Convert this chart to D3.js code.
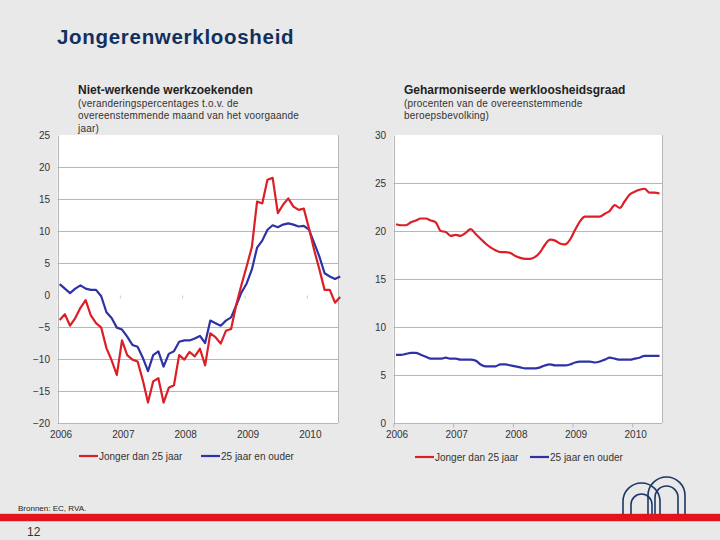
<!DOCTYPE html>
<html>
<head>
<meta charset="utf-8">
<script src="https://cdn.jsdelivr.net/npm/d3@7"></script>
<style>
  html, body { margin: 0; padding: 0; background: #e9e9e9; }
  svg { display: block; font-family: "Liberation Sans", Arial, sans-serif; }
</style>
</head>
<body>
<svg id="chart" width="720" height="540"></svg>
<script>
// ---------- DATA ----------
const yearLabels = ["2006", "2007", "2008", "2009", "2010"];
const yearTickIndex = [0, 12, 24, 36, 48];
const seriesNames = ["Jonger dan 25 jaar", "25 jaar en ouder"];

// Niet-werkende werkzoekenden (% change y/y), monthly Jan 2006 ->
const leftYoung = [-3.9,-3.0,-4.8,-3.6,-2.0,-0.8,-3.2,-4.4,-5.1,-8.3,
  -10.2,-12.5,-7.1,-9.4,-10.1,-10.4,-13.3,-16.8,-13.5,-13.0,
  -16.8,-14.5,-14.1,-9.4,-10.1,-8.9,-9.6,-8.4,-11.0,-6.0,
  -6.6,-7.6,-5.6,-5.3,-1.5,1.6,4.5,7.5,14.6,14.3,
  18.0,18.3,12.8,14.1,15.1,13.8,13.3,13.5,10.4,7.0,
  4.0,0.8,0.8,-1.2,-0.3];
const leftOld = [1.7,1.0,0.3,1.0,1.5,1.0,0.8,0.8,-0.2,-2.7,
  -3.6,-5.1,-5.4,-6.5,-7.8,-8.1,-9.8,-11.9,-9.4,-8.8,
  -11.2,-9.2,-8.8,-7.3,-7.1,-7.1,-6.8,-6.4,-7.5,-4.0,
  -4.4,-4.8,-4.0,-3.5,-1.6,0.4,1.8,4.0,7.4,8.5,
  10.2,10.9,10.6,11.0,11.2,11.0,10.7,10.8,10.2,8.1,
  6.0,3.4,2.9,2.5,2.9];

// Geharmoniseerde werkloosheidsgraad (%), monthly Jan 2006 ->
const rightYoung = [20.7,20.6,20.6,20.9,21.1,21.3,21.3,21.1,20.9,20.0,
  19.9,19.5,19.6,19.5,19.8,20.2,19.7,19.2,18.7,18.3,
  18.0,17.8,17.8,17.7,17.4,17.2,17.1,17.1,17.3,17.8,
  18.6,19.1,19.0,18.7,18.6,19.1,20.1,21.0,21.5,21.5,
  21.5,21.5,21.8,22.1,22.7,22.4,23.1,23.8,24.1,24.3,
  24.4,24.0,24.0,23.9];
const rightOld = [7.1,7.1,7.2,7.3,7.3,7.1,6.9,6.7,6.7,6.7,
  6.8,6.7,6.7,6.6,6.6,6.6,6.5,6.1,5.9,5.9,
  5.9,6.1,6.1,6.0,5.9,5.8,5.7,5.7,5.7,5.8,
  6.0,6.1,6.0,6.0,6.0,6.1,6.3,6.4,6.4,6.4,
  6.3,6.4,6.6,6.8,6.7,6.6,6.6,6.6,6.7,6.8,
  7.0,7.0,7.0,7.0];

const leftTicks = [-20,-15,-10,-5,0,5,10,15,20,25];
const rightTicks = [0,5,10,15,20,25,30];

// ---------- STYLE ----------
const RED = "#dc1e26";
const BLUE = "#2d33a6";
const GRID = "#b7b7b7";
const TXT = "#333333";

const svg = d3.select("#chart");

// Main title
svg.append("text").attr("x", 57).attr("y", 44)
  .attr("font-size", 20.5).attr("font-weight", "bold").attr("fill", "#12305e")
  .attr("letter-spacing", 0.7)
  .text("Jongerenwerkloosheid");

function panel(cfg) {
  const g = svg.append("g");
  const x = d3.scaleLinear().domain([0, 54]).range([cfg.x0, cfg.x1]);
  const y = d3.scaleLinear().domain(cfg.yDomain).range([cfg.y1, cfg.y0]);

  // titles
  g.append("text").attr("x", cfg.tx).attr("y", 94)
    .attr("font-size", 12).attr("font-weight", "bold").attr("fill", "#222")
    .text(cfg.title);
  cfg.sub.forEach((s, i) => {
    g.append("text").attr("x", cfg.tx).attr("y", 107 + i * 12.3)
      .attr("font-size", 10).attr("letter-spacing", 0.2).attr("fill", TXT).text(s);
  });

  // plot background
  g.append("rect").attr("x", cfg.x0).attr("y", cfg.y0)
    .attr("width", cfg.x1 - cfg.x0).attr("height", cfg.y1 - cfg.y0)
    .attr("fill", "#ffffff");

  // gridlines
  g.selectAll(".grid").data(cfg.grid).enter().append("line")
    .attr("x1", cfg.x0).attr("x2", cfg.x1)
    .attr("y1", d => Math.round(y(d)) + 0.5).attr("y2", d => Math.round(y(d)) + 0.5)
    .attr("stroke", GRID).attr("stroke-width", 1);

  // right border
  g.append("line").attr("x1", cfg.x1 + 0.5).attr("x2", cfg.x1 + 0.5)
    .attr("y1", cfg.y0).attr("y2", cfg.y1).attr("stroke", GRID);

  // y axis
  const ya = g.append("g").attr("transform", `translate(${cfg.x0 + 0.5},0)`)
    .call(d3.axisLeft(y).tickValues(cfg.yTicks).tickSize(0).tickPadding(8));
  ya.select(".domain").attr("stroke", GRID);
  ya.selectAll("text").attr("font-size", 10).attr("fill", TXT)
    .attr("font-family", "Liberation Sans, Arial, sans-serif");

  // bottom axis line
  g.append("line").attr("x1", cfg.x0).attr("x2", cfg.x1)
    .attr("y1", Math.round(y(cfg.yDomain[0])) + 0.5).attr("y2", Math.round(y(cfg.yDomain[0])) + 0.5)
    .attr("stroke", GRID);

  // x tick marks (at axis crossing)
  const xa = g.append("g").attr("transform", `translate(0,${Math.round(y(cfg.cross)) + 0.5})`)
    .call(d3.axisBottom(x).tickValues(yearTickIndex).tickSize(cfg.tickLen).tickFormat(""));
  xa.select(".domain").remove();
  xa.selectAll("line").attr("stroke", cfg.tickColor);

  // x labels at bottom
  const xl = g.append("g").attr("transform", `translate(3,${cfg.y1})`)
    .call(d3.axisBottom(x).tickValues(yearTickIndex).tickSize(0).tickPadding(8)
      .tickFormat((d, i) => yearLabels[i]));
  xl.select(".domain").remove();
  xl.selectAll("text").attr("font-size", 10).attr("fill", TXT)
    .attr("font-family", "Liberation Sans, Arial, sans-serif");

  // lines
  const line = d3.line().x((d, i) => x(i + cfg.offset)).y(d => y(d)).curve(cfg.curve);
  [[cfg.young, RED], [cfg.old, BLUE]].reverse().forEach(([data, col]) => {
    g.append("path").datum(data).attr("d", line)
      .attr("fill", "none").attr("stroke", col).attr("stroke-width", 2.2)
      .attr("stroke-linejoin", "round");
  });

  // legend
  const ly = cfg.legendY;
  [[RED, seriesNames[0], cfg.lx[0]], [BLUE, seriesNames[1], cfg.lx[1]]].forEach(([c, t, lx]) => {
    g.append("line").attr("x1", lx).attr("x2", lx + 19).attr("y1", ly).attr("y2", ly)
      .attr("stroke", c).attr("stroke-width", 2.2);
    g.append("text").attr("x", lx + 20).attr("y", ly + 3.5)
      .attr("font-size", 10).attr("fill", TXT).text(t);
  });
}

panel({
  x0: 57.5, x1: 338, y0: 135, y1: 423, yDomain: [-20, 25], yTicks: leftTicks,
  grid: [-15, -10, -5, 5, 10, 15, 20], cross: 0, tickLen: 3, tickColor: "#cccccc",
  tx: 78, title: "Niet-werkende werkzoekenden",
  sub: ["(veranderingspercentages t.o.v. de", "overeenstemmende maand van het voorgaande", "jaar)"],
  young: leftYoung, old: leftOld, offset: 0.42, curve: d3.curveLinear,
  legendY: 456, lx: [79, 201]
});

panel({
  x0: 393.5, x1: 662, y0: 135, y1: 423, yDomain: [0, 30], yTicks: rightTicks,
  grid: [5, 10, 15, 20, 25], cross: 0, tickLen: 4, tickColor: GRID,
  tx: 404, title: "Geharmoniseerde werkloosheidsgraad",
  sub: ["(procenten van de overeenstemmende", "beroepsbevolking)"],
  young: rightYoung, old: rightOld, offset: 0.5, curve: d3.curveMonotoneX,
  legendY: 457, lx: [415, 530]
});

// ---------- FOOTER ----------
svg.append("text").attr("x", 18).attr("y", 511).attr("font-size", 8)
  .attr("fill", "#222").text("Bronnen: EC, RVA.");
svg.append("rect").attr("x", 0).attr("y", 513).attr("width", 720).attr("height", 9).attr("fill", "#f2b8b8");
svg.append("rect").attr("x", 0).attr("y", 514).attr("width", 720).attr("height", 7).attr("fill", "#e3141b");
svg.append("text").attr("x", 27).attr("y", 536).attr("font-size", 12).attr("fill", TXT).text("12");

// logo (arches)
const logo = svg.append("g").attr("fill", "none").attr("stroke", "#1d3766").attr("stroke-width", 1.6);
const arch = (x1, x2, top, bottom) => {
  const r = (x2 - x1) / 2;
  return `M${x1},${bottom} L${x1},${top + r} A${r},${r} 0 0 1 ${x2},${top + r} L${x2},${bottom}`;
};
logo.append("path").attr("d", arch(623, 660, 483, 514));
logo.append("path").attr("d", arch(631, 652, 494, 514));
logo.append("path").attr("d", arch(648, 685, 477, 514));
logo.append("path").attr("d", arch(655, 678, 486, 514));
</script>
</body>
</html>
